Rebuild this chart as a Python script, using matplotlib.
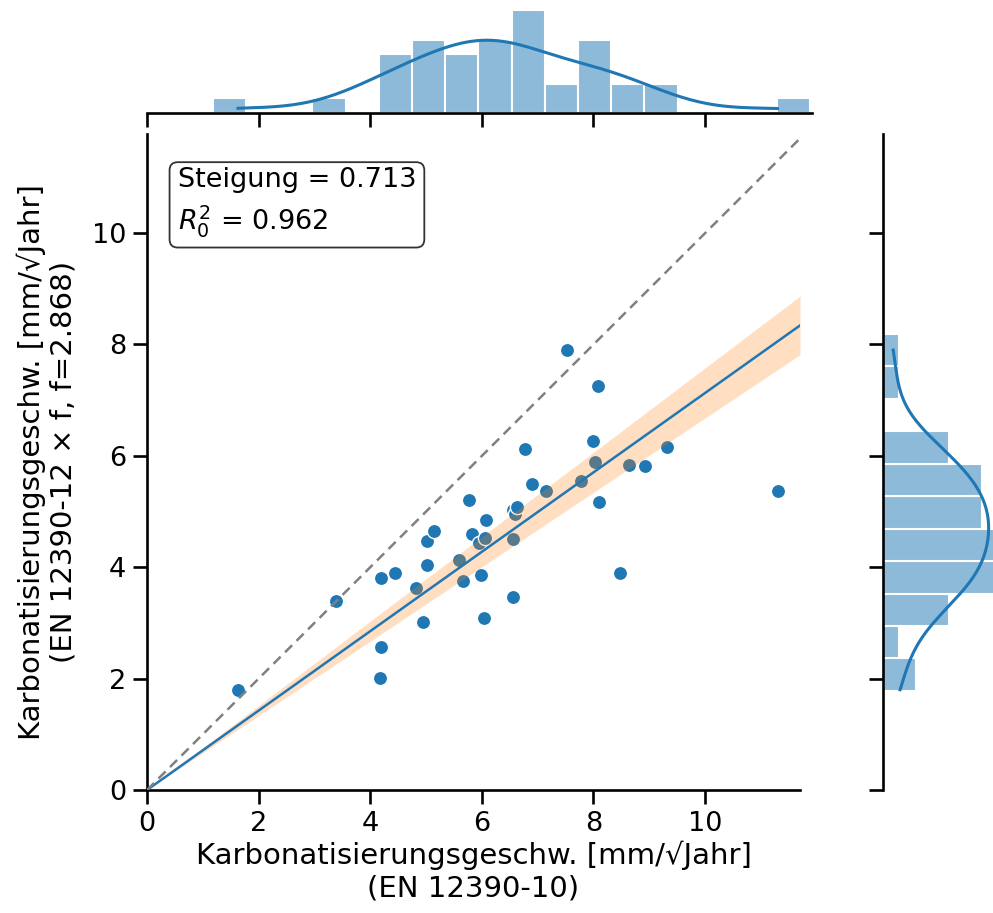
import numpy as np
import matplotlib
matplotlib.use("Agg")
import matplotlib.pyplot as plt
import seaborn as sns

# carbonation rates (EN 12390-10 vs EN 12390-12 x f)
x_en10 = [1.63, 3.39, 4.19, 4.44, 4.19, 4.18, 4.82, 4.95, 5.02, 5.02,
          5.14, 5.59, 5.66, 5.77, 5.82, 5.95, 5.99, 6.04, 6.06, 6.07,
          6.56, 6.59, 6.56, 6.56, 6.63, 6.77, 6.90, 7.15, 7.53, 7.78,
          7.99, 8.03, 8.08, 8.10, 8.48, 8.64, 8.93, 9.32, 11.30]
y_en12 = [1.80, 3.39, 3.81, 3.90, 2.57, 2.01, 3.63, 3.02, 4.04, 4.47,
          4.65, 4.13, 3.75, 5.21, 4.60, 4.43, 3.86, 3.09, 4.52, 4.85,
          5.03, 4.96, 4.51, 3.46, 5.08, 6.12, 5.49, 5.37, 7.90, 5.55,
          6.27, 5.89, 7.25, 5.17, 3.90, 5.83, 5.82, 6.16, 5.37]

slope = 0.713
r2_0 = 0.962
slope_ci = 0.045  # half width of the confidence band on the slope

x_bins = np.linspace(1.18, 11.89, 19)
y_bins = np.linspace(1.78, 8.19, 12)
ticks = [0, 2, 4, 6, 8, 10]
x_max = 11.7
y_max = 11.78

W, H = 993, 913


def px_box(left, top, right, bottom):
    # pixel box -> figure fraction
    return [left / W, 1 - bottom / H, (right - left) / W, (bottom - top) / H]


fig = plt.figure(figsize=(W / 100, H / 100), dpi=100)
ax = fig.add_axes(px_box(147, 134, 800, 790))
ax_top = fig.add_axes(px_box(147, 5, 812, 113))
ax_right = fig.add_axes(px_box(883, 134, 1004, 790))

blue = "tab:blue"
lw_spine = 1.9
tick_kw = dict(length=10, width=lw_spine, labelsize=19.5, pad=5)

# main scatter
ax.scatter(x_en10, y_en12, s=105, color=blue, edgecolor="white", linewidth=1, zorder=2)
xs = np.array([0, x_max])
ax.fill_between(xs, (slope - slope_ci) * xs, (slope + slope_ci) * xs,
                color="tab:orange", alpha=0.25, linewidth=0, zorder=3)
ax.plot(xs, slope * xs, color=blue, lw=1.8, zorder=4)
ax.plot(xs, xs, color="gray", lw=1.8, dashes=(4, 2.5), zorder=4)

ax.set_xlim(0, x_max)
ax.set_ylim(0, y_max)
ax.set_xticks(ticks)
ax.set_yticks(ticks)
ax.tick_params(**tick_kw)
for s in ["top", "right"]:
    ax.spines[s].set_visible(False)
for s in ["left", "bottom"]:
    ax.spines[s].set_linewidth(lw_spine)

ax.set_xlabel("Karbonatisierungsgeschw. [mm/√Jahr]\n(EN 12390-10)", fontsize=21, labelpad=3)
ax.set_ylabel("Karbonatisierungsgeschw. [mm/√Jahr]\n(EN 12390-12 × f, f=2.868)",
              fontsize=21, labelpad=10)

ax.text(0.047, 0.95, f"Steigung = {slope:.3f}\n$R_0^2$ = {r2_0:.3f}",
        transform=ax.transAxes, ha="left", va="top", fontsize=19.5, linespacing=1.4,
        bbox=dict(boxstyle="round,pad=0.3", facecolor="white", edgecolor="0.2", linewidth=1.3))

# marginal histograms
sns.histplot(x=x_en10, bins=x_bins, kde=True, ax=ax_top, color=blue, alpha=0.5,
             edgecolor="white", linewidth=1.5, kde_kws={"cut": 0}, line_kws={"linewidth": 2.2})
sns.histplot(y=y_en12, bins=y_bins, kde=True, ax=ax_right, color=blue, alpha=0.5,
             edgecolor="white", linewidth=1.5, kde_kws={"cut": 0}, line_kws={"linewidth": 2.2})

ax_top.set_xlim(0, 11.92)
ax_top.set_ylim(0, 7.35)
ax_top.set_xticks(ticks)
ax_top.tick_params(axis="x", labelbottom=False, **tick_kw)
ax_top.set_yticks([])
ax_top.set_xlabel("")
ax_top.set_ylabel("")
for s in ["top", "right", "left"]:
    ax_top.spines[s].set_visible(False)
ax_top.spines["bottom"].set_linewidth(lw_spine)

ax_right.set_ylim(0, y_max)
ax_right.set_xlim(0, 7.35)
ax_right.set_yticks(ticks)
ax_right.tick_params(axis="y", labelleft=False, **tick_kw)
ax_right.set_xticks([])
ax_right.set_xlabel("")
ax_right.set_ylabel("")
for s in ["top", "right", "bottom"]:
    ax_right.spines[s].set_visible(False)
ax_right.spines["left"].set_linewidth(lw_spine)

fig.savefig("out.png", dpi=100)
